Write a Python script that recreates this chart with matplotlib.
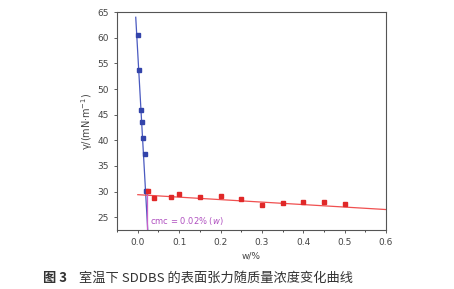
import matplotlib
matplotlib.use("Agg")
import matplotlib.pyplot as plt
from matplotlib.ticker import MultipleLocator

plt.rcParams['font.family'] = ['DejaVu Sans']

# blue points (below cmc)
w_blue = [0.0, 0.002, 0.008, 0.010, 0.013, 0.018, 0.021]
g_blue = [60.6, 53.8, 46.0, 43.6, 40.4, 37.3, 30.2]
# red points (above cmc)
w_red = [0.024, 0.04, 0.08, 0.10, 0.15, 0.20, 0.25, 0.30, 0.35, 0.40, 0.45, 0.50]
g_red = [30.1, 28.7, 28.9, 29.5, 28.9, 29.1, 28.5, 27.3, 27.8, 27.9, 27.9, 27.6]
# fitted lines
fit_blue_x = [-0.005, 0.024]
fit_blue_y = [64.0, 22.5]
fit_red_x = [0.0, 0.6]
fit_red_y = [29.4, 26.5]
cmc = 0.022

fig = plt.figure(figsize=(4.54, 2.89), dpi=100)
ax = fig.add_axes([0.258, 0.204, 0.592, 0.754])

ax.plot(fit_blue_x, fit_blue_y, color='#4a5ac0', lw=0.9)
ax.plot(fit_red_x, fit_red_y, color='#f05050', lw=0.9)
ax.plot([cmc, cmc], [22.5, 30.2], color='#c860c8', lw=0.9)
ax.plot(w_blue, g_blue, 's', color='#3344aa', ms=3.2)
ax.plot(w_red, g_red, 's', color='#e02828', ms=3.2)
ax.text(0.03, 24.2, 'cmc = 0.02% ($w$)', color='#b050c0', fontsize=6, va='center')

ax.set_xlim(-0.05, 0.6)
ax.set_ylim(22.5, 65)
ax.xaxis.set_major_locator(MultipleLocator(0.1))
ax.xaxis.set_minor_locator(MultipleLocator(0.05))
ax.yaxis.set_major_locator(MultipleLocator(5))
ax.tick_params(labelsize=6.5, colors='#444444', length=2.5, width=0.6)
ax.tick_params(which='minor', length=1.5, width=0.5)
ax.xaxis.set_major_formatter(plt.FuncFormatter(lambda v, p: f"{v:.1f}"))
for s in ax.spines.values():
    s.set_linewidth(0.8)
    s.set_color('#555555')

ax.set_xlabel('w/%', fontsize=6.5, color='#444444', labelpad=3)
ax.set_ylabel('γ/(mN·m$^{-1}$)', fontsize=7, color='#444444', labelpad=2)

fig.text(0.095, 0.038, '图 3', fontsize=9.5, fontweight='bold', va='center',
         family=['Noto Sans CJK SC', 'DejaVu Sans'], color='#333333')
fig.text(0.174, 0.038, '室温下 SDDBS 的表面张力随质量浓度变化曲线', fontsize=9.5,
         va='center', family=['Noto Sans CJK SC', 'DejaVu Sans'], color='#333333')

fig.savefig('out.png', dpi=100)
